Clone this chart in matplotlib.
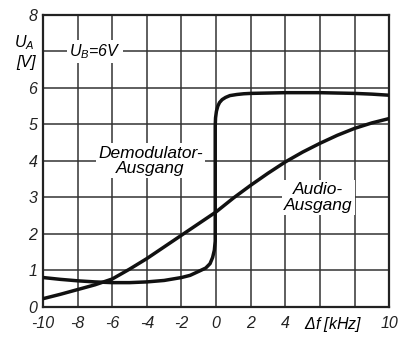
import numpy as np
import matplotlib
matplotlib.use("Agg")
import matplotlib.pyplot as plt

plt.rcParams['font.family'] = ['Liberation Sans', 'DejaVu Sans']
plt.rcParams['font.style'] = 'italic'
plt.rcParams['mathtext.fontset'] = 'custom'
plt.rcParams['mathtext.it'] = 'Liberation Sans:italic'
plt.rcParams['mathtext.rm'] = 'Liberation Sans:italic'

# Demodulator-Ausgang
demod_x = [-10, -9, -8, -7, -6, -5, -4, -3, -2, -1.5, -1, -0.6, -0.35, -0.2, -0.1, -0.05,
           -0.05, -0.03, 0.02, 0.1, 0.2, 0.35, 0.55, 0.8, 1.2, 1.6, 2, 3, 4, 5, 6, 7, 8, 9, 10]
demod_y = [0.80, 0.75, 0.71, 0.68, 0.66, 0.66, 0.68, 0.72, 0.80, 0.86, 0.97, 1.06, 1.18, 1.35, 1.55, 1.80,
           4.95, 5.18, 5.36, 5.50, 5.60, 5.68, 5.74, 5.79, 5.82, 5.84, 5.85, 5.86, 5.87, 5.87, 5.87,
           5.86, 5.85, 5.83, 5.80]

# Audio-Ausgang
audio_x = [-10, -9, -8, -7, -6, -5, -4, -3, -2, -1, 0, 1, 2, 3, 4, 5, 6, 7, 8, 9, 10]
audio_y = [0.22, 0.34, 0.47, 0.60, 0.76, 1.03, 1.32, 1.64, 1.96, 2.28, 2.60, 2.98, 3.33, 3.66, 3.97,
           4.24, 4.48, 4.70, 4.89, 5.04, 5.16]

xticks = [-10, -8, -6, -4, -2, 0, 2, 4, 6, 8, 10]
xlabels = ['-10', '-8', '-6', '-4', '-2', '0', '2', '4', '', '', '10']
yticks = [0, 1, 2, 3, 4, 5, 6, 7, 8]
ylabels = ['0', '1', '2', '3', '4', '5', '6', '', '8']

fig = plt.figure(figsize=(4.02, 3.38), dpi=100)
ax = fig.add_axes([0.107, 0.0926, 0.861, 0.863])

ax.plot(demod_x, demod_y, color='#111111', lw=2.5, solid_joinstyle='round', zorder=4)
ax.plot(audio_x, audio_y, color='#111111', lw=2.5, solid_joinstyle='round', zorder=4)

ax.set_xlim(-10, 10)
ax.set_ylim(0, 8)
ax.set_xticks(xticks)
ax.set_xticklabels(xlabels)
ax.set_yticks(yticks)
ax.set_yticklabels(ylabels)
ax.tick_params(length=0, labelsize=11.5, colors='#222222')
ax.tick_params(axis='y', pad=4)
ax.tick_params(axis='x', pad=7)
ax.grid(True, color='#333333', lw=1.1)
ax.set_axisbelow(True)
for s in ax.spines.values():
    s.set_linewidth(1.6)
    s.set_color('#222222')

box = dict(facecolor='white', edgecolor='none', pad=1.5)
ax.text(-7.0, 7.0, '$U_B$=6V', fontsize=11.5, ha='center', va='center', bbox=box, zorder=3)
ax.text(-3.8, 4.0, 'Demodulator-\nAusgang', fontsize=12.5, ha='center', va='center',
        multialignment='center', linespacing=1.05, bbox=box, zorder=3)
ax.text(5.9, 3.0, 'Audio-\nAusgang', fontsize=12.5, ha='center', va='center',
        multialignment='center', linespacing=1.05, bbox=box, zorder=3)

# axis labels placed where tick labels sit
ax.text(6.8, -0.23, r'$\Delta$f [kHz]', fontsize=11.5, ha='center', va='top', clip_on=False)
ax.text(-10.5, 7.25, '$U_A$', fontsize=11.5, ha='right', va='center', clip_on=False)
ax.text(-10.4, 6.7, '[V]', fontsize=11.5, ha='right', va='center', clip_on=False)

fig.savefig('out.png', dpi=100)
